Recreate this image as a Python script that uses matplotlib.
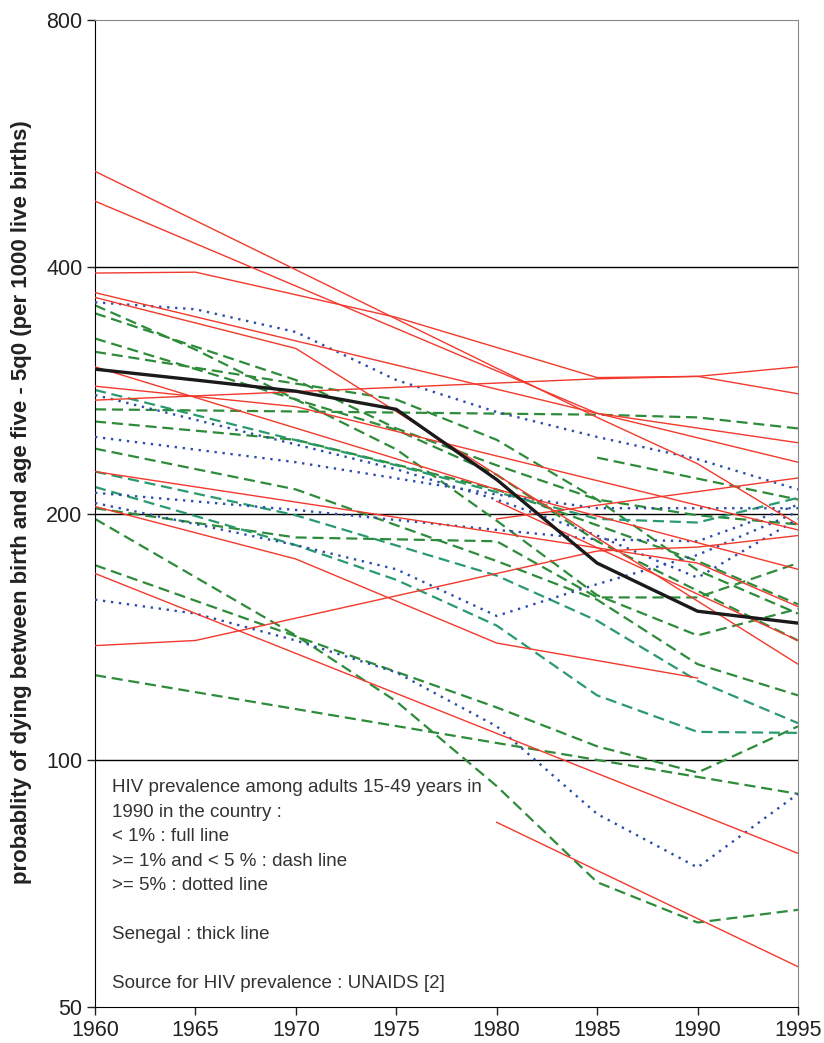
import matplotlib
matplotlib.use('Agg')
import matplotlib.pyplot as plt
from matplotlib.ticker import FixedLocator, NullLocator

plt.rcParams['font.family'] = ['Liberation Sans', 'DejaVu Sans']

# -------------------------------------------------------
# Data: under-five mortality (per 1000)
# -------------------------------------------------------

# HIV < 1% : full red lines
red_years = [
    [1960, 1985, 1990, 1995],
    [1960, 1985, 1995],
    [1960, 1965, 1975, 1985, 1990, 1995],
    [1960, 1985, 1995],
    [1960, 1970, 1995],
    [1960, 1980, 1995],
    [1960, 1970, 1995],
    [1960, 1990, 1995],
    [1960, 1970, 1980, 1990],
    [1960, 1995],
    [1960, 1965, 1980, 1985, 1990, 1995],
    [1980, 1995],
    [1980, 1995],
    [1980, 1995],
    [1960, 1985, 1990, 1995],
]
red_values = [
    [523, 262, 230, 194],
    [481, 265, 231],
    [393, 394, 347, 293, 294, 280],
    [372, 265, 244],
    [367, 318, 131],
    [302, 214, 171],
    [286, 270, 191],
    [225, 174, 154],
    [204, 176, 139, 126],
    [169, 77],
    [138, 140, 169, 180, 182, 188],
    [207, 140],
    [197, 221],
    [84, 56],
    [275, 292, 294, 302],
]

# HIV 1-5% : dashed green lines (two shades)
green_years = [
    [1960, 1985, 1990, 1995],
    [1960, 1965, 1970, 1975, 1980, 1985, 1990, 1995],
    [1960, 1970, 1975, 1980, 1985, 1990, 1995],
    [1960, 1970, 1975, 1980, 1985, 1990, 1995],
    [1960, 1975, 1980, 1985, 1990, 1995],
    [1960, 1970, 1980, 1990, 1995],
    [1960, 1970, 1980, 1985, 1990, 1995],
    [1960, 1970, 1980, 1985, 1990, 1995],
    [1960, 1970, 1975, 1980, 1985, 1990, 1995],
    [1960, 1980, 1985, 1990, 1995],
    [1960, 1995],
    [1985, 1995],
]
green_values = [
    [268, 264, 262, 254],
    [359, 317, 275.5, 239.5, 196, 159, 142, 153],
    [351, 291, 254, 229, 208, 199, 194],
    [327, 275.5, 253, 223, 185, 161, 140],
    [315, 275.5, 246, 208, 170.5, 151],
    [259, 246, 214, 175, 155],
    [240, 214, 175, 157, 131, 120],
    [203, 187, 185, 158, 158, 174],
    [197, 142, 118, 93, 71, 63.4, 65.7],
    [173, 116, 104, 96.6, 110],
    [127, 91],
    [234, 208],
]
teal_years = [
    [1960, 1975, 1985, 1990, 1995],
    [1960, 1970, 1975, 1980, 1985, 1990, 1995],
    [1960, 1970, 1980, 1985, 1990, 1995],
]
teal_values = [
    [283, 229, 197, 195, 209],
    [215.5, 183, 166, 146, 120, 108.3, 108],
    [225, 199, 168, 148, 125, 111],
]

# HIV >= 5% : dotted blue lines
blue_years = [
    [1960, 1965, 1970, 1975, 1980, 1985, 1990, 1995],
    [1960, 1975, 1980, 1985, 1990, 1995],
    [1960, 1970, 1980, 1985, 1990, 1995],
    [1960, 1970, 1980, 1985, 1990, 1995],
    [1960, 1970, 1975, 1980, 1985, 1990, 1995],
    [1960, 1965, 1970, 1975, 1980, 1985, 1990, 1995],
]
blue_values = [
    [362, 355, 333, 291, 266, 248, 233, 214],
    [279, 226.5, 208, 188, 167, 197],
    [248, 231, 211, 203, 203, 203],
    [212, 202, 191, 186, 185, 205],
    [206, 183, 171, 150, 164, 178, 201],
    [157, 151, 140, 128, 110, 86, 74, 91],
]

# Senegal : thick black line
senegal_years = [1960, 1965, 1970, 1975, 1980, 1985, 1990, 1995]
senegal_values = [300, 291, 282, 268, 220, 174, 152, 147]

y_ticks = [50, 100, 200, 400, 800]
x_ticks = [1960, 1965, 1970, 1975, 1980, 1985, 1990, 1995]

legend_lines = [
    'HIV prevalence among adults 15-49 years in',
    '1990 in the country :',
    '< 1% : full line',
    '>= 1% and < 5 % : dash line',
    '>= 5% : dotted line',
    '',
    'Senegal : thick line',
    '',
    'Source for HIV prevalence : UNAIDS [2]',
]

# -------------------------------------------------------

fig = plt.figure(figsize=(8.24, 10.43), dpi=100)
ax = fig.add_axes([0.1153, 0.0345, 0.8531, 0.9463])
ax.set_yscale('log')

for v in [100, 200, 400]:
    ax.axhline(v, color='black', lw=1.0, zorder=0.5)

dash = (0, (5, 2.6))
for xs, ys in zip(green_years, green_values):
    ax.plot(xs, ys, color='#2e8b3a', lw=1.6, linestyle=dash, zorder=2)
for xs, ys in zip(teal_years, teal_values):
    ax.plot(xs, ys, color='#2a9a6e', lw=1.6, linestyle=dash, zorder=2)
for xs, ys in zip(blue_years, blue_values):
    ax.plot(xs, ys, color='#2b4ea8', lw=1.7, linestyle=(0, (1, 2.4)), zorder=3)
for xs, ys in zip(red_years, red_values):
    ax.plot(xs, ys, color='#f2392c', lw=1.0, zorder=4)
ax.plot(senegal_years, senegal_values, color='#1a1a1a', lw=2.4, zorder=5)

ax.set_xlim(1960, 1995)
ax.set_ylim(50, 800)
ax.yaxis.set_major_locator(FixedLocator(y_ticks))
ax.yaxis.set_minor_locator(NullLocator())
ax.set_yticklabels([str(t) for t in y_ticks])
ax.set_xticks(x_ticks)
ax.tick_params(direction='out', length=6, width=1, labelsize=15.5, pad=3, colors='#222222')

ax.spines['left'].set_color('black')
ax.spines['bottom'].set_color('black')
ax.spines['top'].set_color('#888888')
ax.spines['right'].set_color('#888888')

ax.set_ylabel('probablity of dying between birth and age five - 5q0 (per 1000 live births)',
              fontsize=16, fontweight='bold', color='#222222')
ax.yaxis.set_label_coords(-0.089, 0.512)

y0 = 788
for i, line in enumerate(legend_lines):
    if line:
        fig.text(112 / 824, 1 - (y0 + i * 24.4) / 1043, line, fontsize=13.5,
                 color='#333333', va='center', ha='left')

fig.savefig('out.png', dpi=100)
